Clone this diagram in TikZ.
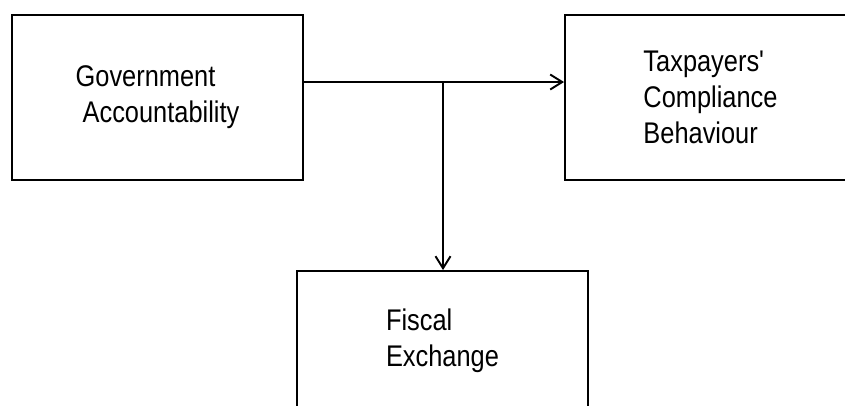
\documentclass[tikz,border=0pt]{standalone}
\usepackage{fontspec}
\setmainfont{Liberation Sans}[FakeStretch=0.85]
\usetikzlibrary{arrows.meta}

\begin{document}
\begin{tikzpicture}
			\tikzset{boite/.style={rectangle, draw=black, line width=1.1pt, minimum width=5.82cm, minimum height=3.3cm, align=left, font=\fontsize{17}{20.5}\selectfont}, fleche/.style={-{Straight Barb[length=0.24cm, width=0.3cm]}, line width=1.1pt}};

			\useasboundingbox (0,0) rectangle (16.9,8.1);

			\node[boite] (gouv) at ( 3.15, 6.15) {Government\\\hspace*{0.14cm}Accountability};
			\node[boite] (comp) at (14.21, 6.15) {Taxpayers\textquotesingle\\Compliance\\Behaviour};
			\node[boite, minimum height=2.8cm] (fisc) at ( 8.85, 1.28) {Fiscal\\Exchange};

			\coordinate (j) at (8.86, 6.46);

			\draw[fleche] (gouv.east |- j) -- (comp.west |- j);
			\draw[fleche] (j) -- (j |- fisc.north);

		\end{tikzpicture}
\end{document}
